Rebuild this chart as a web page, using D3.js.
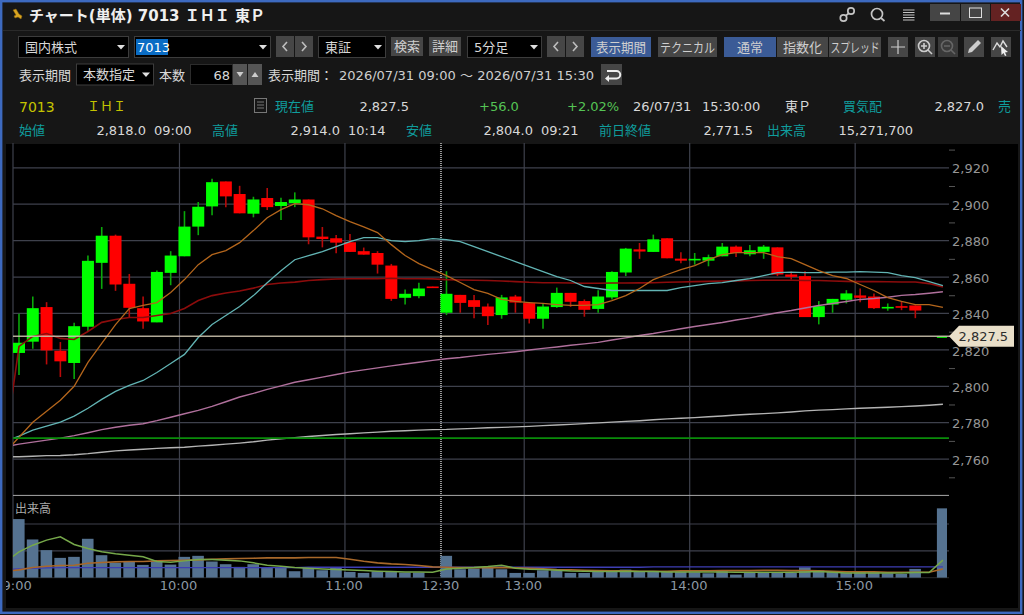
<!DOCTYPE html>
<html>
<head>
<meta charset="utf-8">
<script src="https://d3js.org/d3.v7.min.js"></script>
<style>
html, body { margin: 0; padding: 0; background: #161616; overflow: hidden; }
svg { display: block; }
text { font-family: "DejaVu Sans", "Noto Sans CJK JP", sans-serif; }
</style>
</head>
<body>
<svg id="chart" width="1024" height="615"></svg>
<script>
// 5 minute bars for 7013, 09:00 to 15:30 (68 bars). null = no trade in that bar
const opens = [2818.3,2824.5,2843.5,2819.5,2812.8,2832.7,2867.8,2882.7,2856.3,2842.9,2835.1,2862.3,2871.4,2887.7,2898.8,2912.5,2905.6,2894.8,2903.4,2899.0,2900.6,2902.6,2882.2,2881.3,2879.1,2874.2,2873.2,2866.3,2848.6,2849.5,2854.8,2840.4,2850.2,2847.3,2843.8,2839.1,2849.3,2845.7,2837.1,2843.5,2851.3,2846.8,2842.5,2848.8,2862.5,2875.2,2873.8,2881.3,2870.1,2869.2,2869.0,2871.4,2876.7,2872.5,2873.8,2876.3,2861.4,2860.5,2838.0,2844.9,2847.5,2849.9,2849.3,2843.1,2844.0,2844.4,null,2827.5];
const highs = [2839.8,2849.3,2846.2,2824.3,2834.9,2871.8,2887.5,2883.3,2861.7,2849.3,2863.6,2874.2,2896.2,2901.2,2914.0,2912.5,2910.1,2904.1,2908.9,2903.6,2906.5,2902.6,2887.5,2883.1,2883.6,2876.2,2874.2,2867.2,2853.1,2856.8,2854.8,2863.2,2850.2,2850.2,2845.5,2850.2,2850.2,2845.7,2845.5,2854.2,2851.3,2847.7,2852.8,2863.2,2876.0,2878.7,2883.3,2881.3,2873.6,2873.2,2872.3,2878.7,2877.3,2877.6,2877.6,2876.3,2863.0,2863.2,2846.8,2848.0,2852.8,2853.7,2851.0,2845.5,2846.8,2844.4,null,2827.5];
const lows = [2806.2,2820.6,2812.0,2805.1,2804.0,2830.1,2853.5,2852.4,2837.6,2831.6,2835.1,2855.5,2871.4,2883.0,2893.9,2898.4,2895.0,2892.8,2896.8,2891.3,2898.4,2878.0,2876.3,2873.1,2873.8,2872.3,2861.9,2846.9,2844.9,2848.4,2854.6,2839.1,2840.4,2837.3,2833.6,2837.1,2840.4,2834.5,2831.6,2843.1,2843.6,2838.2,2840.4,2847.7,2860.5,2870.0,2873.8,2870.3,2867.6,2866.8,2865.9,2871.4,2871.0,2871.4,2870.0,2860.5,2858.6,2838.0,2834.0,2840.4,2845.5,2846.2,2842.5,2841.5,2841.8,2837.4,null,2827.5];
const closes = [2823.9,2842.9,2819.7,2813.7,2833.0,2868.9,2882.7,2855.9,2843.1,2835.6,2862.8,2871.8,2887.7,2898.6,2912.1,2904.3,2895.0,2902.6,2898.4,2901.2,2902.6,2881.8,2880.9,2878.9,2873.8,2872.3,2866.8,2848.0,2850.8,2853.7,2854.6,2850.8,2845.8,2843.6,2838.5,2848.8,2846.0,2837.1,2843.8,2851.3,2846.4,2842.0,2849.3,2862.8,2875.6,2874.0,2880.7,2870.3,2869.0,2870.0,2870.9,2876.7,2873.2,2874.7,2876.7,2861.4,2860.1,2838.0,2844.0,2848.0,2851.0,2848.6,2842.9,2843.6,2843.5,2841.6,null,2827.5];
const volumes = [1092000,711600,511800,368000,387000,724000,418000,275000,293000,237000,312000,243000,387000,406000,300000,250000,200000,250000,187000,187000,119000,187000,137000,181000,106000,87000,119000,119000,94000,94000,0,406000,156000,169000,187000,156000,87000,87000,137000,137000,87000,87000,112000,137000,150000,112000,119000,119000,106000,100000,81000,119000,56000,87000,94000,94000,87000,193000,137000,112000,87000,106000,100000,81000,69000,162000,0,1292000];

// price averages: first value belongs to the bar before 09:00, it is cut by the left edge
const maOrange = [2763.8,2772.0,2780.2,2786.3,2792.3,2800.0,2813.1,2823.6,2833.9,2842.7,2844.4,2846.0,2851.5,2858.6,2866.8,2872.3,2874.5,2878.9,2885.5,2892.6,2897.0,2900.3,2899.7,2897.5,2893.7,2890.4,2887.6,2884.4,2877.8,2871.8,2867.4,2864.1,2860.8,2857.0,2853.1,2851.0,2847.7,2846.6,2846.0,2845.5,2844.9,2844.4,2844.4,2844.9,2847.1,2849.8,2853.7,2858.6,2861.4,2864.1,2866.3,2869.6,2872.3,2873.4,2873.4,2873.4,2871.2,2870.1,2866.8,2863.5,2860.8,2859.2,2855.9,2852.6,2848.7,2846.6,2844.9,2844.9,2843.3];
const maCyan = [2769.8,2772.6,2775.9,2778.1,2780.3,2783.6,2787.9,2792.8,2797.2,2800.5,2803.2,2807.6,2812.5,2817.5,2826.8,2833.9,2838.9,2843.8,2849.8,2856.9,2863.5,2869.5,2871.7,2873.9,2876.7,2879.4,2881.6,2881.6,2880.0,2879.4,2880.0,2881.1,2880.5,2879.4,2876.7,2873.9,2871.2,2868.5,2865.7,2863.0,2860.2,2858.1,2854.8,2853.7,2852.6,2852.6,2852.6,2852.6,2852.6,2854.2,2855.3,2856.4,2856.9,2858.1,2859.1,2860.8,2862.4,2862.7,2862.4,2862.4,2862.7,2862.7,2863.0,2862.7,2862.4,2860.8,2859.7,2857.5,2855.3];
const maRed = [2767.7,2821.9,2827.4,2829.0,2826.3,2825.7,2830.1,2835.1,2836.7,2837.8,2837.8,2838.9,2840.0,2842.7,2847.1,2849.8,2851.2,2852.3,2853.9,2855.9,2856.7,2857.2,2858.1,2858.6,2858.9,2859.1,2859.1,2859.1,2859.3,2859.1,2859.1,2859.0,2858.6,2858.4,2858.2,2858.1,2857.8,2857.5,2857.1,2856.9,2856.9,2856.7,2856.6,2856.6,2856.7,2856.7,2856.8,2856.9,2857.1,2857.3,2857.5,2857.6,2857.8,2857.9,2858.1,2858.2,2858.2,2858.2,2858.1,2858.1,2857.8,2857.6,2857.5,2857.5,2857.4,2857.3,2857.3,2856.4,2854.6];
const maPink = [2766.8,2768.2,2769.3,2770.4,2771.5,2772.9,2774.5,2776.2,2777.5,2778.6,2779.4,2781.1,2783.0,2784.9,2786.8,2789.0,2791.5,2794.1,2796.1,2798.3,2800.2,2802.2,2803.6,2805.0,2806.5,2807.9,2809.0,2810.1,2811.2,2812.2,2813.2,2814.2,2815.1,2815.8,2816.7,2817.5,2818.2,2819.0,2819.9,2820.8,2821.6,2822.5,2823.3,2824.1,2825.4,2826.6,2827.9,2829.0,2830.3,2831.6,2832.8,2833.9,2835.0,2836.4,2837.6,2839.0,2840.4,2841.6,2843.0,2844.4,2845.5,2846.6,2847.7,2848.2,2848.9,2849.9,2850.4,2851.1,2851.9];
const maGray = [2761.2,2761.3,2761.6,2761.9,2762.0,2762.4,2763.0,2763.8,2764.5,2765.0,2765.4,2765.9,2766.2,2766.5,2767.1,2767.6,2768.2,2768.8,2769.5,2770.4,2771.2,2771.8,2772.4,2773.0,2773.5,2773.9,2774.4,2774.8,2775.3,2775.6,2775.9,2776.2,2776.3,2776.6,2776.9,2777.2,2777.4,2777.7,2778.0,2778.4,2778.7,2779.1,2779.5,2779.9,2780.3,2780.7,2781.1,2781.6,2782.1,2782.4,2782.8,2783.3,2783.7,2784.2,2784.6,2785.0,2785.4,2785.9,2786.5,2786.9,2787.2,2787.6,2787.9,2788.2,2788.5,2788.8,2789.2,2789.6,2790.1];

// volume averages, same convention
const volMaGreen = [287000,480600,605000,699000,762000,618000,543000,481000,443000,418000,387000,300000,287000,312000,337000,337000,325000,312000,275000,231000,212000,187000,175000,162000,150000,144000,131000,119000,112000,106000,106000,100000,162000,175000,187000,206000,231000,175000,156000,150000,137000,125000,119000,112000,112000,119000,112000,112000,106000,106000,106000,106000,106000,100000,100000,100000,100000,100000,106000,112000,100000,87000,87000,87000,87000,87000,94000,94000,325000];
const volMaOrange = [119000,144000,187000,212000,225000,231000,268000,281000,293000,300000,300000,312000,318000,325000,331000,343000,350000,356000,362000,368000,368000,368000,375000,375000,375000,343000,306000,275000,256000,243000,225000,200000,193000,187000,187000,187000,187000,181000,175000,162000,150000,144000,137000,131000,125000,125000,119000,119000,119000,125000,125000,125000,131000,131000,131000,137000,137000,131000,131000,125000,119000,106000,106000,106000,100000,100000,100000,100000,162000];
const volMaBlue = [150000,162000,175000,181000,187000,187000,187000,187000,187000,187000,187000,187000,187000,187000,187000,187000,187000,187000,187000,187000,187000,187000,193000,193000,193000,193000,193000,193000,193000,193000,193000,193000,193000,193000,193000,193000,193000,193000,193000,193000,193000,193000,193000,193000,193000,193000,193000,200000,200000,200000,200000,200000,200000,200000,200000,200000,200000,200000,200000,200000,200000,200000,200000,200000,200000,200000,200000,200000,200000];

const priceTicks = [2760,2780,2800,2820,2840,2860,2880,2900,2920];
const priceMinorTicks = [2750,2770,2790,2810,2830,2850,2870,2890,2910,2930];
const volumeTicks = [0,500000,1000000];
const timeBars = [0,12,24,31,37,49,61];
const timeLabels = ["09:00","10:00","11:00","12:30","13:00","14:00","15:00"];
const lastPrice = 2827.5;
const prevClose = 2771.5;

const W = 1024, H = 615;
const svg = d3.select("#chart");

const x = d3.scaleBand().domain(d3.range(68)).range([12.1, 949.8]).paddingInner(0.13).paddingOuter(0.065);
const y = d3.scaleLinear().domain([2760, 2920]).range([459.1, 167.8]);
const yVol = d3.scaleLinear().domain([0, 1000000]).range([577.6, 524]);
const cx = i => x(0) + x.bandwidth() / 2 + x.step() * i;

const UP = "#00ff00", DOWN = "#ff0000";
const TEAL = "#0f9c9c", TXT = "#d8d8d8", GRID = "#3e414c";

// window frame
svg.append("rect").attr("width", W).attr("height", H).attr("fill", "#161616");
svg.append("rect").attr("x", 1.2).attr("y", 1.2).attr("width", W - 4).attr("height", H - 3.4)
    .attr("fill", "none").attr("stroke", "#3d6ac0").attr("stroke-width", 2.4);
svg.append("rect").attr("x", 6).attr("y", 144).attr("width", 1012).attr("height", 464).attr("fill", "#000");
svg.append("line").attr("x1", 3).attr("x2", 1021).attr("y1", 30.5).attr("y2", 30.5).attr("stroke", "#2a2a2a");

svg.append("defs").append("clipPath").attr("id", "plot")
    .append("rect").attr("x", x(0)).attr("y", 144).attr("width", 934).attr("height", 434);
svg.select("defs").append("clipPath").attr("id", "timeclip")
    .append("rect").attr("x", 6).attr("y", 578).attr("width", 1010).attr("height", 20);
svg.select("defs").append("clipPath").attr("id", "volclip")
    .append("rect").attr("x", 945).attr("y", 500).attr("width", 72).attr("height", 78.5);

function label(px, py, str, o) {
    o = o || {};
    const t = svg.append("text").attr("x", px).attr("y", py).text(str)
        .attr("fill", o.fill || TXT)
        .attr("font-size", o.size || 13)
        .attr("font-weight", o.weight || "normal")
        .attr("text-anchor", o.anchor || "start")
        .attr("dominant-baseline", "central");
    if (o.len) t.attr("textLength", o.len).attr("lengthAdjust", "spacingAndGlyphs");
    return t;
}

function box(bx, by, bw, bh, fill, stroke) {
    return svg.append("rect").attr("x", bx).attr("y", by).attr("width", bw).attr("height", bh)
        .attr("fill", fill).attr("stroke", stroke || "none");
}

function button(bx, by, bw, bh, str, fill, len) {
    box(bx, by, bw, bh, fill);
    label(bx + bw / 2, by + bh / 2, str, { anchor: "middle", fill: "#cfcfcf", len: len });
}

function combo(bx, by, bw, bh, str) {
    box(bx + .5, by + .5, bw, bh, "#000", "#3c3c3c");
    if (str) label(bx + 7, by + bh / 2 + .5, str);
    svg.append("path").attr("fill", "#e0e0e0")
        .attr("d", `M${bx + bw - 11},${by + bh / 2 - 1.5}h8l-4,4.5z`);
}

function arrows(bx, by) {
    box(bx, by, 18, 21, "#464646");
    box(bx + 19, by, 18, 21, "#464646");
    svg.append("path").attr("fill", "none").attr("stroke", "#bdbdbd").attr("stroke-width", 1.6)
        .attr("d", `M${bx + 11},${by + 6}l-4,4.5l4,4.5M${bx + 26},${by + 6}l4,4.5l-4,4.5`);
}

// title bar
svg.append("path").attr("fill", "#d9a520").attr("stroke", "#8a6510").attr("stroke-width", .5)
    .attr("d", "M13,10l3,-1l3,5l3,2l-1,3l-3,-2l-3,1l-1,-2l2,-1z");
label(29, 15.5, "チャート(単体) 7013 ＩＨＩ 東Ｐ", { size: 15, weight: "bold", fill: "#efefef" });

// link, search and menu icons
const icon = svg.append("g").attr("fill", "none").attr("stroke", "#c4c4c4").attr("stroke-width", 1.7);
icon.append("circle").attr("cx", 843.5).attr("cy", 18).attr("r", 3.2);
icon.append("circle").attr("cx", 851).attr("cy", 11).attr("r", 3.2);
icon.append("line").attr("x1", 846).attr("y1", 15.5).attr("x2", 848.5).attr("y2", 13.5);
icon.append("circle").attr("cx", 877).attr("cy", 14).attr("r", 5.5);
icon.append("line").attr("x1", 881).attr("y1", 18).attr("x2", 884.5).attr("y2", 21);
d3.range(5).forEach(k => icon.append("line").attr("x1", 903).attr("x2", 914.5)
    .attr("y1", 10 + k * 2.5).attr("y2", 10 + k * 2.5).attr("stroke-width", 1));

box(930, 4, 30, 17, "#454545");
box(961, 4, 29, 17, "#454545");
box(991, 4, 30, 17, "#642222");
svg.append("line").attr("x1", 940).attr("x2", 950).attr("y1", 13.5).attr("y2", 13.5).attr("stroke", "#ddd").attr("stroke-width", 2);
box(969.5, 8, 12, 9.5, "none", "#ddd");
svg.append("path").attr("stroke", "#ddd").attr("stroke-width", 1.6).attr("d", "M1001,8.5l8,8M1009,8.5l-8,8");

// first toolbar row
combo(18, 36, 110, 21, "国内株式");
combo(134, 36, 136, 21);
box(136, 39, 32, 16, "#0a6cc4");
label(137, 47.5, "7013", { fill: "#fff" });
arrows(276, 36);
combo(318, 36, 67, 21, "東証");
button(391, 37, 32, 19, "検索", "#464646");
button(429, 37, 32, 19, "詳細", "#464646");
combo(467, 36, 74, 21, "5分足");
arrows(547, 36);
button(591, 37, 60, 20, "表示期間", "#3b5b96", 50);
button(658, 37, 59, 20, "テクニカル", "#464646", 55);
button(724, 37, 52, 20, "通常", "#3b5b96");
button(777, 37, 51, 20, "指数化", "#464646");
button(829, 37, 52, 20, "スプレッド", "#464646", 49);

box(888, 37, 20, 20, "#464646");
svg.append("path").attr("stroke", "#ccc").attr("stroke-width", 1.2).attr("d", "M891,47h14M898,40v14");
box(915, 37, 20, 20, "#464646");
box(938, 37, 20, 20, "#3a3a3a");
[[925, "#ccc", true], [948, "#666", false]].forEach(d => {
    svg.append("circle").attr("cx", d[0] - 1).attr("cy", 46).attr("r", 5.5)
        .attr("fill", "none").attr("stroke", d[1]).attr("stroke-width", 1.6);
    svg.append("path").attr("stroke", d[1]).attr("stroke-width", 1.6)
        .attr("d", `M${d[0] + 3},${50}l4,4M${d[0] - 4},46h6` + (d[2] ? `M${d[0] - 1},43v6` : ""));
});
box(964, 37, 20, 20, "#464646");
svg.append("path").attr("fill", "#ccc").attr("d", "M968,53l1,-4l9,-9l3,3l-9,9z");
box(991, 37, 20, 20, "#464646");
svg.append("path").attr("fill", "none").attr("stroke", "#ddd").attr("stroke-width", 1.4).attr("d", "M993,50l4,-7l3,4l3,-6l4,6");
svg.append("path").attr("fill", "#eee").attr("d", "M1001,46l7,6l-3,.5l1.5,3l-1.5,.5l-1.5,-3l-2,2z");

// second toolbar row
label(19, 75.5, "表示期間");
combo(76, 63.5, 77, 21, "本数指定");
label(159, 75.5, "本数");
box(190.5, 64.5, 42, 20, "#000", "#2c2c2c");
label(230, 75, "68", { anchor: "end" });
box(233, 64, 14, 21, "#555");
box(248, 64, 14, 21, "#555");
svg.append("path").attr("fill", "#ccc").attr("d", "M236.5,72h7l-3.5,5zM251.5,77h7l-3.5,-5z");
label(268, 75.5, "表示期間：");
label(339, 75.5, "2026/07/31 09:00 ～ 2026/07/31 15:30", { fill: "#cfcfcf", len: 255 });
box(601, 64, 21, 21, "#464646");
svg.append("path").attr("fill", "none").attr("stroke", "#eee").attr("stroke-width", 2)
    .attr("d", "M607,71h9.5a3,3 0 0 1 0,7.5h-9.5");
svg.append("path").attr("fill", "#eee").attr("d", "M605,78.5l4,-3.5v7z");

// quote block
label(19, 106.5, "7013", { fill: "#c4c400", size: 14 });
label(87, 106.5, "ＩＨＩ", { fill: "#c4c400" });
box(254.5, 98.5, 12, 14, "none", "#777");
svg.append("path").attr("stroke", "#777").attr("d", "M257,102h7M257,105h7M257,108h7");
label(275, 106, "現在値", { fill: TEAL });
label(409, 106, "2,827.5", { anchor: "end" });
label(479, 106, "+56.0", { fill: "#55c455" });
label(567, 106, "+2.02%", { fill: "#55c455" });
label(633, 106, "26/07/31");
label(702, 106, "15:30:00");
label(785, 106, "東Ｐ");
label(843, 106, "買気配", { fill: TEAL });
label(984, 106, "2,827.0", { anchor: "end" });
label(998, 106, "売", { fill: TEAL });

label(19, 130, "始値", { fill: TEAL });
label(146, 130, "2,818.0", { anchor: "end" });
label(154, 130, "09:00");
label(212, 130, "高値", { fill: TEAL });
label(340, 130, "2,914.0", { anchor: "end" });
label(348, 130, "10:14");
label(406, 130, "安値", { fill: TEAL });
label(533, 130, "2,804.0", { anchor: "end" });
label(541, 130, "09:21");
label(599, 130, "前日終値", { fill: TEAL });
label(753, 130, "2,771.5", { anchor: "end" });
label(767, 130, "出来高", { fill: TEAL });
label(913, 130, "15,271,700", { anchor: "end" });

// grid
const grid = svg.append("g");
grid.selectAll("line.h").data(priceTicks).enter().append("line")
    .attr("x1", x(0)).attr("x2", 949).attr("y1", d => y(d)).attr("y2", d => y(d))
    .attr("stroke", GRID).attr("stroke-width", 1.2);
grid.selectAll("line.v").data(timeBars.filter(i => i > 0 && i !== 31)).enter().append("line")
    .attr("x1", i => x(i) + 1).attr("x2", i => x(i) + 1).attr("y1", 143).attr("y2", 578)
    .attr("stroke", GRID).attr("stroke-width", 1.2);
grid.append("line").attr("x1", x(0)).attr("x2", x(0)).attr("y1", 143).attr("y2", 578)
    .attr("stroke", GRID).attr("stroke-width", 1.2);
// lunch break, 12:30 open
grid.append("line").attr("x1", x(31) + .5).attr("x2", x(31) + .5).attr("y1", 143).attr("y2", 578)
    .attr("stroke", "#969696").attr("stroke-width", 2).attr("stroke-dasharray", "1,1");
grid.append("line").attr("x1", x(0)).attr("x2", 949).attr("y1", 495.4).attr("y2", 495.4)
    .attr("stroke", "#a8a8a8");
grid.selectAll("line.vh").data(volumeTicks).enter().append("line")
    .attr("x1", x(0)).attr("x2", 949).attr("y1", d => yVol(d)).attr("y2", d => yVol(d))
    .attr("stroke", d => d === 0 ? "#222" : GRID).attr("stroke-width", 1.2);

// candles
const bars = d3.range(68).filter(i => opens[i] !== null);
const candle = svg.append("g").attr("clip-path", "url(#plot)");
const wickColor = i => closes[i] >= opens[i] ? "#0aa80a" : "#b80a0a";
candle.selectAll("line").data(bars).enter().append("line")
    .attr("x1", cx).attr("x2", cx)
    .attr("y1", i => y(highs[i])).attr("y2", i => y(lows[i]))
    .attr("stroke", wickColor).attr("stroke-width", 1.6);
candle.selectAll("rect").data(bars).enter().append("rect")
    .attr("x", i => x(i)).attr("width", x.bandwidth())
    .attr("y", i => y(Math.max(opens[i], closes[i])))
    .attr("height", i => Math.max(1.6, Math.abs(y(opens[i]) - y(closes[i]))))
    .attr("fill", i => closes[i] >= opens[i] ? UP : DOWN);

// price averages
const maLine = d3.line().x((d, k) => cx(k - 1)).y(d => y(d));
const maSeries = [
    [maGray, "#b4b4b4", 1.4],
    [maPink, "#b0709c", 1.4],
    [maRed, "#8c0c0c", 1.6],
    [maCyan, "#62b4b4", 1.3],
    [maOrange, "#b4661c", 1.3]
];
const lines = svg.append("g").attr("clip-path", "url(#plot)").attr("fill", "none");
lines.selectAll("path").data(maSeries).enter().append("path")
    .attr("d", d => maLine(d[0])).attr("stroke", d => d[1]).attr("stroke-width", d => d[2]);

// previous close and last price
svg.append("line").attr("x1", x(0)).attr("x2", 949).attr("y1", y(prevClose)).attr("y2", y(prevClose))
    .attr("stroke", "#0a8c0a").attr("stroke-width", 1.7);
svg.append("line").attr("x1", x(0)).attr("x2", 950).attr("y1", y(lastPrice)).attr("y2", y(lastPrice))
    .attr("stroke", "#c8bfaa").attr("stroke-width", 1.6).attr("stroke-opacity", .9);

// price axis
const axisText = g => g.call(a => a.select(".domain").remove())
    .call(a => a.selectAll("text").attr("fill", "#969696").attr("font-size", 13)
        .attr("font-family", '"DejaVu Sans", sans-serif'));
svg.append("g").attr("transform", "translate(949,0)")
    .call(d3.axisRight(y).tickValues(priceMinorTicks).tickSize(6).tickFormat(""))
    .call(a => a.select(".domain").remove())
    .call(a => a.selectAll("line").attr("stroke", "#555"));
svg.append("g").attr("transform", "translate(950,1)")
    .call(d3.axisRight(y).tickValues(priceTicks).tickSize(0).tickPadding(2).tickFormat(d3.format(",")))
    .call(axisText);

const tagY = y(lastPrice);
svg.append("path").attr("fill", "#e9dfc9")
    .attr("d", `M949,${tagY}l10,-10.5h55v21h-55z`);
svg.append("text").attr("x", 958.5).attr("y", tagY).attr("dominant-baseline", "central")
    .attr("fill", "#2c2c2c").attr("font-size", 13).text(d3.format(",.1f")(lastPrice));

// volume panel
label(15, 509, "出来高", { size: 12, fill: "#a8a8a8" });
svg.append("g").attr("clip-path", "url(#plot)").selectAll("rect").data(d3.range(68).filter(i => volumes[i] > 0)).enter().append("rect")
    .attr("x", i => x(i)).attr("width", x.bandwidth() - .4)
    .attr("y", i => yVol(volumes[i]))
    .attr("height", i => yVol(0) - yVol(volumes[i]))
    .attr("fill", "#557290");

const volLine = d3.line().x((d, k) => cx(k - 1)).y(d => yVol(d));
const volSeries = [
    [volMaBlue, "#3e3eb4", 1.4],
    [volMaOrange, "#a8682a", 1.6],
    [volMaGreen, "#76a84a", 1.5]
];
svg.append("g").attr("clip-path", "url(#plot)").attr("fill", "none")
    .selectAll("path").data(volSeries).enter().append("path")
    .attr("d", d => volLine(d[0])).attr("stroke", d => d[1]).attr("stroke-width", d => d[2]);

svg.append("g").attr("transform", "translate(950,0)").attr("clip-path", "url(#volclip)")
    .call(d3.axisRight(yVol).tickValues(volumeTicks).tickSize(0).tickPadding(2).tickFormat(d3.format(",")))
    .call(axisText)
    .call(a => a.selectAll("text").attr("font-size", 12.5));

// time axis
svg.append("g").attr("clip-path", "url(#timeclip)").append("g")
    .attr("transform", `translate(${-x.bandwidth() / 2},578)`)
    .call(d3.axisBottom(x).tickValues(timeBars).tickSize(0).tickPadding(3)
        .tickFormat(i => timeLabels[timeBars.indexOf(i)]))
    .call(axisText)
    .call(a => a.selectAll("text").attr("fill", "#8c98a4"));
</script>
</body>
</html>
